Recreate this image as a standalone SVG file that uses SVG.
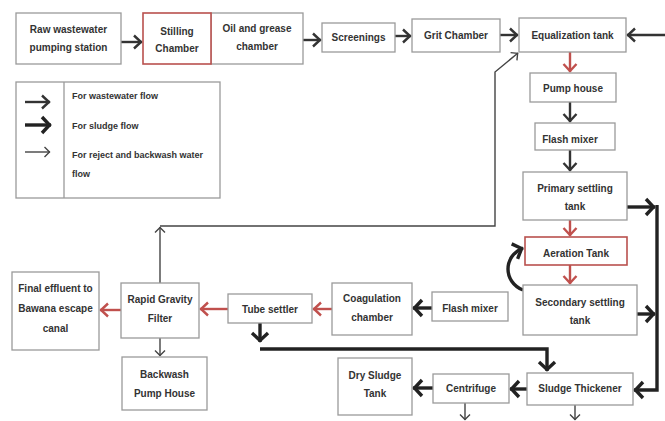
<svg xmlns="http://www.w3.org/2000/svg" width="665" height="421" viewBox="0 0 665 421">
<style>
.box{fill:#fff;stroke:#9a9a9a;stroke-width:1.3}
.red{fill:#fff;stroke:#b9514e;stroke-width:1.6}
.t{font-family:"Liberation Sans",Arial,sans-serif;font-weight:bold;font-size:10px;fill:#333;text-anchor:middle}
.lt{font-family:"Liberation Sans",Arial,sans-serif;font-weight:bold;font-size:9px;fill:#333}
.w{fill:none;stroke:#333;stroke-width:2.4;marker-end:url(#mw)}
.s{fill:none;stroke:#222;stroke-width:3.4}
.sa{marker-end:url(#ms)}
.r{fill:none;stroke:#444;stroke-width:1.4;marker-end:url(#mr)}
.rd{fill:none;stroke:#c0504d;stroke-width:2.4;marker-end:url(#mred)}
</style>
<defs>
<marker id="mw" markerUnits="userSpaceOnUse" markerWidth="24" markerHeight="24" viewBox="-12 -12 24 24" refX="0" refY="0" orient="auto" overflow="visible"><path d="M-8,-6.5 L-1,0 L-8,6.5" fill="none" stroke="#333" stroke-width="2.4"/></marker>
<marker id="ms" markerUnits="userSpaceOnUse" markerWidth="24" markerHeight="24" viewBox="-12 -12 24 24" refX="0" refY="0" orient="auto" overflow="visible"><path d="M-9,-8 L-1.5,0 L-9,8" fill="none" stroke="#222" stroke-width="3.4"/></marker>
<marker id="mr" markerUnits="userSpaceOnUse" markerWidth="24" markerHeight="24" viewBox="-12 -12 24 24" refX="0" refY="0" orient="auto" overflow="visible"><path d="M-5.5,-5 L-0.5,0 L-5.5,5" fill="none" stroke="#444" stroke-width="1.4"/></marker>
<marker id="mred" markerUnits="userSpaceOnUse" markerWidth="24" markerHeight="24" viewBox="-12 -12 24 24" refX="0" refY="0" orient="auto" overflow="visible"><path d="M-8,-6.5 L-1,0 L-8,6.5" fill="none" stroke="#c0504d" stroke-width="2.4"/></marker>
</defs>
<rect width="665" height="421" fill="#fff"/>

<g id="connectors">
<path class="w" d="M121,42 H142"/>
<path class="w" d="M303,40 H321"/>
<path class="w" d="M395,36 H411"/>
<path class="w" d="M500,35 H518"/>
<path class="w" d="M665,35 H627"/>
<path class="rd" d="M570,52 V72"/>
<path class="w" d="M570,102 V122"/>
<path class="w" d="M570,150 V171"/>
<path class="rd" d="M570,220 V236"/>
<path class="rd" d="M570,265 V284"/>
<path class="s sa" d="M523,290 C503,282 503,256 523,248"/>
<path class="s sa" d="M627,207 H655"/>
<path class="s sa" d="M637,314 H655"/>
<path class="s sa" d="M657,205 V390 H634"/>
<path class="s sa" d="M432,308 H413"/>
<path class="rd" d="M332,309 H313"/>
<path class="rd" d="M228,309 H200"/>
<path class="rd" d="M121,310 H100"/>
<path class="r" d="M160,338 V356"/>
<path class="r" d="M160,283 V227"/>
<path class="r" d="M160,226 H495 V72 L518,53"/>
<path class="s sa" d="M260,323 V342"/>
<path class="s sa" d="M260,349 H547 V371"/>
<path class="s sa" d="M527,389 H510"/>
<path class="s sa" d="M433,388 H413"/>
<path class="r" d="M575,405 V420"/>
<path class="r" d="M465,403 V420"/>
</g>

<g id="legend">
<rect class="box" x="16" y="82" width="204" height="116"/>
<line x1="64" y1="82" x2="64" y2="198" stroke="#9a9a9a" stroke-width="1.3"/>
<path class="w" d="M25,102 H50"/>
<path class="s sa" d="M25,125 H51"/>
<path class="r" d="M25,152 H50"/>
<text class="lt" x="72" y="99">For wastewater flow</text>
<text class="lt" x="72" y="129">For sludge flow</text>
<text class="lt" x="72" y="158">For reject and backwash water</text>
<text class="lt" x="72" y="177">flow</text>
</g>

<g id="raw"><rect class="box" x="16" y="13" width="105" height="51"/><text class="t" x="68.5" y="33">Raw wastewater</text><text class="t" x="68.5" y="51">pumping station</text></g>
<g id="oil"><rect class="box" x="211" y="13" width="92" height="51"/><text class="t" x="257" y="32">Oil and grease</text><text class="t" x="257" y="50">chamber</text></g>
<g id="stilling"><rect class="red" x="143" y="13" width="68" height="51"/><text class="t" x="177" y="35">Stilling</text><text class="t" x="177" y="52">Chamber</text></g>
<g id="screenings"><rect class="box" x="322" y="23" width="73" height="29"/><text class="t" x="358.5" y="41">Screenings</text></g>
<g id="grit"><rect class="box" x="412" y="19" width="88" height="33"/><text class="t" x="456" y="38.5">Grit Chamber</text></g>
<g id="equalization"><rect class="box" x="519" y="18" width="107" height="34"/><text class="t" x="572.5" y="38.5">Equalization tank</text></g>
<g id="pumphouse"><rect class="box" x="530" y="73" width="86" height="29"/><text class="t" x="573" y="91.5">Pump house</text></g>
<g id="flashmixer1"><rect class="box" x="535" y="123" width="80" height="27"/><text class="t" x="570" y="142.5">Flash mixer</text></g>
<g id="primary"><rect class="box" x="523" y="172" width="104" height="48"/><text class="t" x="575" y="191.5">Primary settling</text><text class="t" x="575" y="209.5">tank</text></g>
<g id="aeration"><rect class="red" x="525" y="237" width="102" height="28"/><text class="t" x="576" y="256.5">Aeration Tank</text></g>
<g id="secondary"><rect class="box" x="523" y="285" width="114" height="50"/><text class="t" x="580" y="305.5">Secondary settling</text><text class="t" x="580" y="323.5">tank</text></g>
<g id="thickener"><rect class="box" x="527" y="373" width="106" height="32"/><text class="t" x="580" y="391.5">Sludge Thickener</text></g>
<g id="centrifuge"><rect class="box" x="433" y="374" width="76" height="29"/><text class="t" x="471" y="391.5">Centrifuge</text></g>
<g id="drysludge"><rect class="box" x="338" y="358" width="74" height="57"/><text class="t" x="375" y="378.5">Dry Sludge</text><text class="t" x="375" y="396.5">Tank</text></g>
<g id="flashmixer2"><rect class="box" x="432" y="292" width="76" height="29"/><text class="t" x="470" y="311.5">Flash mixer</text></g>
<g id="coagulation"><rect class="box" x="332" y="283" width="80" height="52"/><text class="t" x="372" y="301.5">Coagulation</text><text class="t" x="372" y="320.5">chamber</text></g>
<g id="tubesettler"><rect class="box" x="228" y="294" width="84" height="29"/><text class="t" x="270" y="312.5">Tube settler</text></g>
<g id="rgf"><rect class="box" x="121" y="283" width="78" height="55"/><text class="t" x="160" y="302.5">Rapid Gravity</text><text class="t" x="160" y="321.5">Filter</text></g>
<g id="final"><rect class="box" x="12" y="272" width="87" height="78"/><text class="t" x="55.5" y="291.5">Final effluent to</text><text class="t" x="55.5" y="311.5">Bawana escape</text><text class="t" x="55.5" y="331.5">canal</text></g>
<g id="backwash"><rect class="box" x="122" y="357" width="85" height="53"/><text class="t" x="164.5" y="377.5">Backwash</text><text class="t" x="164.5" y="396.5">Pump House</text></g>
</svg>
